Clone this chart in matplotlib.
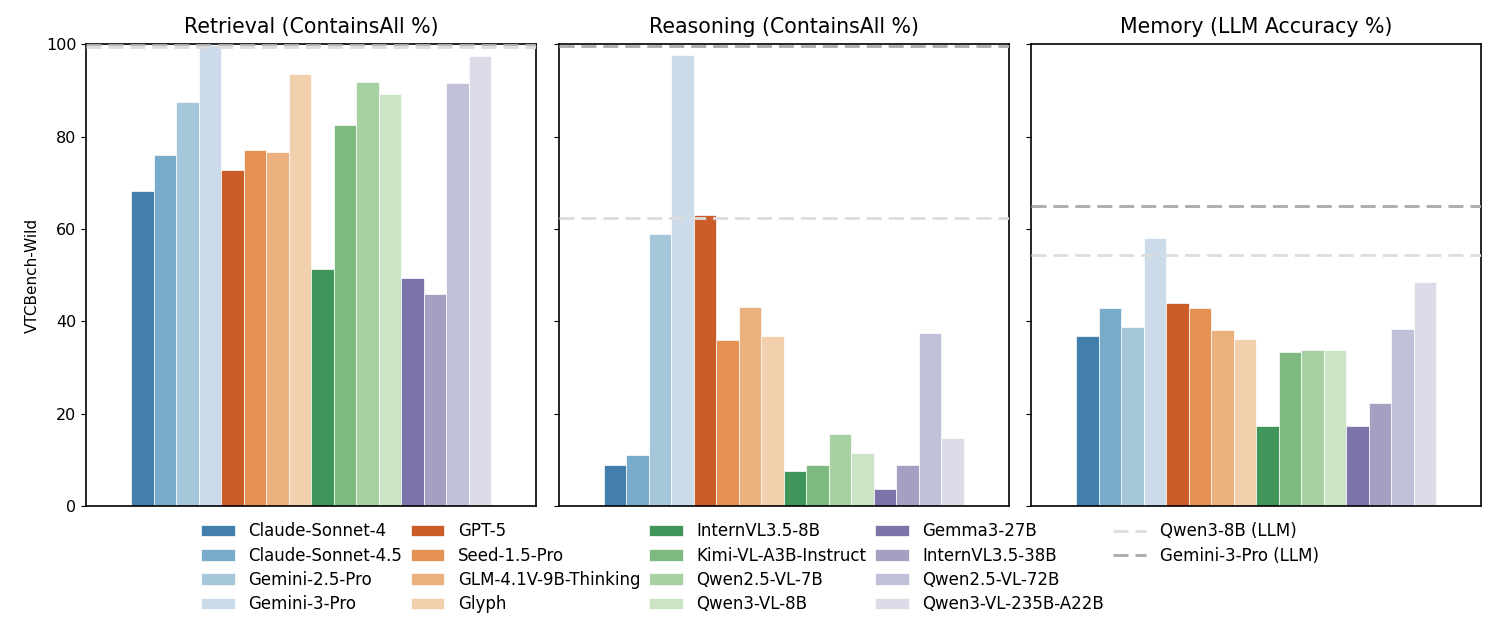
import colorsys
import matplotlib
matplotlib.use('Agg')
import matplotlib.pyplot as plt
import matplotlib.colors as mcolors
from matplotlib.lines import Line2D
import numpy as np

models = ['Claude-Sonnet-4', 'Claude-Sonnet-4.5', 'Gemini-2.5-Pro', 'Gemini-3-Pro',
          'GPT-5', 'Seed-1.5-Pro', 'GLM-4.1V-9B-Thinking', 'Glyph',
          'InternVL3.5-8B', 'Kimi-VL-A3B-Instruct', 'Qwen2.5-VL-7B', 'Qwen3-VL-8B',
          'Gemma3-27B', 'InternVL3.5-38B', 'Qwen2.5-VL-72B', 'Qwen3-VL-235B-A22B']

retrieval = [68.3, 76.1, 87.5, 99.9, 72.7, 77.1, 76.8, 93.7,
             51.4, 82.6, 91.8, 89.2, 49.5, 45.9, 91.7, 97.6]
reasoning = [8.8, 11.0, 58.9, 97.8, 63.0, 35.9, 43.2, 36.9,
             7.6, 8.8, 15.6, 11.5, 3.7, 8.8, 37.5, 14.7]
memory = [36.9, 42.9, 38.7, 58.1, 43.9, 42.9, 38.2, 36.2,
          17.4, 33.4, 33.9, 33.8, 17.4, 22.4, 38.4, 48.5]

titles = ['Retrieval (ContainsAll %)', 'Reasoning (ContainsAll %)', 'Memory (LLM Accuracy %)']

# text-only baselines (dashed lines)
qwen3_8b_llm = [99.4, 62.4, 54.3]
gemini3_pro_llm = [100.0, 99.6, 64.9]


def desaturate(c, prop=0.75):
    r, g, b = mcolors.to_rgb(c)
    h, l, s = colorsys.rgb_to_hls(r, g, b)
    return colorsys.hls_to_rgb(h, l, s * prop)


tab = plt.get_cmap('tab20c').colors
colors = [desaturate(tab[i]) for i in range(16)]

fig, axes = plt.subplots(1, 3, figsize=(14.96, 6.35), dpi=100, sharey=True)
plt.subplots_adjust(left=0.0575, right=0.99, top=0.93, bottom=0.203, wspace=0.05)

dash = (0, (5.4, 2.5))
x = np.arange(len(models))
for k, (ax, vals) in enumerate(zip(axes, [retrieval, reasoning, memory])):
    bars = ax.bar(x, vals, width=1.0, color=colors, edgecolor='white', linewidth=0.5)
    l1 = ax.axhline(qwen3_8b_llm[k], color='#dddddd', lw=2, ls=dash, zorder=3)
    l2 = ax.axhline(gemini3_pro_llm[k], color='#aaaaaa', lw=2, ls=dash, zorder=3)
    ax.set_title(titles[k], fontsize=14.8, pad=8)
    ax.set_xlim(-2.5, 17.5)
    ax.set_ylim(0, 100)
    ax.set_xticks([])
    ax.set_yticks([0, 20, 40, 60, 80, 100])
    ax.tick_params(axis='y', labelsize=11.5)
    for sp in ax.spines.values():
        sp.set_linewidth(1.2)

axes[0].set_ylabel('VTCBench-Wild', fontsize=11)

# two empty slots so the last column holds only the two baselines
blank = Line2D([], [], color='none')
handles = list(bars) + [l1, l2, blank, blank]
labels = models + ['Qwen3-8B (LLM)', 'Gemini-3-Pro (LLM)', '', '']
fig.legend(handles, labels, loc='upper center', bbox_to_anchor=(0.508, 0.193),
           ncol=5, frameon=False, fontsize=12, labelspacing=0.38,
           columnspacing=0.55, borderaxespad=0.2)

plt.savefig('out.png', dpi=100)
